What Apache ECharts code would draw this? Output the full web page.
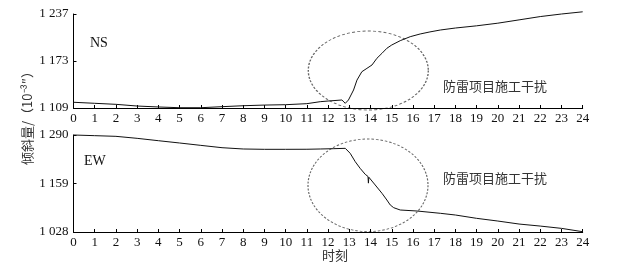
<!DOCTYPE html>
<html><head><meta charset="utf-8">
<script src="https://cdn.jsdelivr.net/npm/echarts@6/dist/echarts.min.js"></script>
<style>html,body{margin:0;padding:0;background:#fff}#c{width:623px;height:268px}</style>
</head><body><div id="c"></div>
<script>
const hourTicks = [0,1,2,3,4,5,6,7,8,9,10,11,12,13,14,15,16,17,18,19,20,21,22,23,24];
const nsTicks = [1109, 1173, 1237];
const ewTicks = [1028, 1159, 1290];
const nsHours = [0,1,2,3,4,5,6,7,8,9,10,11,11.63,12,12.65,12.81,12.96,13.2,13.36,13.59,13.83,14.07,14.3,14.54,14.77,15.0,15.4,15.87,16.34,16.8,17.29,18,19,20,21,22,23,24];
const nsValues = [1116.8,1115.4,1114,1111.7,1110.4,1109.4,1109.4,1110.8,1112.1,1113,1113.5,1114.9,1117.6,1118.5,1119.9,1115.4,1119.9,1133.5,1147,1158.4,1163,1167.6,1176.7,1183.5,1190.3,1194.8,1200.7,1206.1,1209.8,1212.6,1215.2,1217.9,1220.9,1224.5,1229,1233.5,1237,1240];
const ewHours = [0,1,2,3,4,5,6,7,8,9,10,11,11.63,12.24,12.81,13.04,13.28,13.51,13.75,13.88,13.9,13.92,14.22,14.54,14.77,14.93,15.09,15.4,16.19,17.29,18,19,20,21,22,23,24];
const ewValues = [1290,1288.2,1286.4,1281,1274.6,1268.4,1262,1255.7,1252.2,1251.3,1251.3,1251.5,1252.2,1253,1254,1240.6,1217.9,1200,1183.8,1178,1160,1176,1155,1132.5,1114.4,1101,1093.7,1087.4,1084.7,1078.5,1073.9,1064.9,1057.6,1049.5,1044,1037.8,1028.8];

const serif = '"Liberation Serif","DejaVu Serif",serif';
const cjk = '"Noto Sans CJK SC",sans-serif';
const fmt = v => String(Math.round(v)).replace(/\B(?=(\d{3})+(?!\d))/g, ' ');

function xAxis(gi){
  return {type:'value', gridIndex:gi, min:0, max:24, interval:1,
    axisLine:{lineStyle:{color:'#000',width:1}},
    axisTick:{inside:true,length:3,lineStyle:{color:'#000'}},
    axisLabel:{color:'#111',fontFamily:serif,fontSize:13,margin:4,
      customValues:hourTicks},
    splitLine:{show:false}};
}
function yAxis(gi,ticks){
  return {type:'value', gridIndex:gi, min:ticks[0], max:ticks[2],
    axisLine:{show:true,lineStyle:{color:'#000',width:1}},
    axisTick:{show:true,inside:true,length:3,customValues:ticks,lineStyle:{color:'#000'}},
    axisLabel:{color:'#111',fontFamily:serif,fontSize:13,margin:5,customValues:ticks,formatter:fmt},
    splitLine:{show:false}};
}
const chart = echarts.init(document.getElementById('c'),null,{renderer:'canvas'});
chart.setOption({
  animation:false,
  backgroundColor:'#fff',
  grid:[{left:73.5,right:40.3,top:14,height:94},{left:73.5,right:40.3,top:135,height:97}],
  xAxis:[xAxis(0),xAxis(1)],
  yAxis:[yAxis(0,nsTicks),yAxis(1,ewTicks)],
  series:[
    {type:'line',xAxisIndex:0,yAxisIndex:0,showSymbol:false,clip:false,
      lineStyle:{color:'#111',width:1},data:nsHours.map((h,i)=>[h,nsValues[i]])},
    {type:'line',xAxisIndex:1,yAxisIndex:1,showSymbol:false,clip:false,
      lineStyle:{color:'#111',width:1},data:ewHours.map((h,i)=>[h,ewValues[i]])}
  ],
  graphic:[
    {type:'circle',x:368.3,y:70.5,scaleX:60/39.5,shape:{cx:0,cy:0,r:39.5},
      style:{fill:'none',stroke:'#666',lineWidth:0.9,lineDash:[2,1.5]}},
    {type:'circle',x:368,y:185.3,scaleX:60/46.3,shape:{cx:0,cy:0,r:46.3},
      style:{fill:'none',stroke:'#666',lineWidth:0.9,lineDash:[2,1.5]}},
    {type:'text',x:90,y:36,style:{text:'NS',font:'14px '+serif,fill:'#111'}},
    {type:'text',x:84,y:154,style:{text:'EW',font:'14px '+serif,fill:'#111'}},
    {type:'text',x:443,y:80,style:{text:'防雷项目施工干扰',font:'13px '+cjk,fill:'#333'}},
    {type:'text',x:443,y:172,style:{text:'防雷项目施工干扰',font:'13px '+cjk,fill:'#333'}},
    {type:'text',x:322,y:249,style:{text:'时刻',font:'13px '+cjk,fill:'#333'}},
    {type:'text',x:27,y:115,rotation:Math.PI/2,
      style:{text:'倾斜量/（10⁻³″）',font:'13px '+cjk,fill:'#333',align:'center',verticalAlign:'middle'}}
  ]
});
</script></body></html>
